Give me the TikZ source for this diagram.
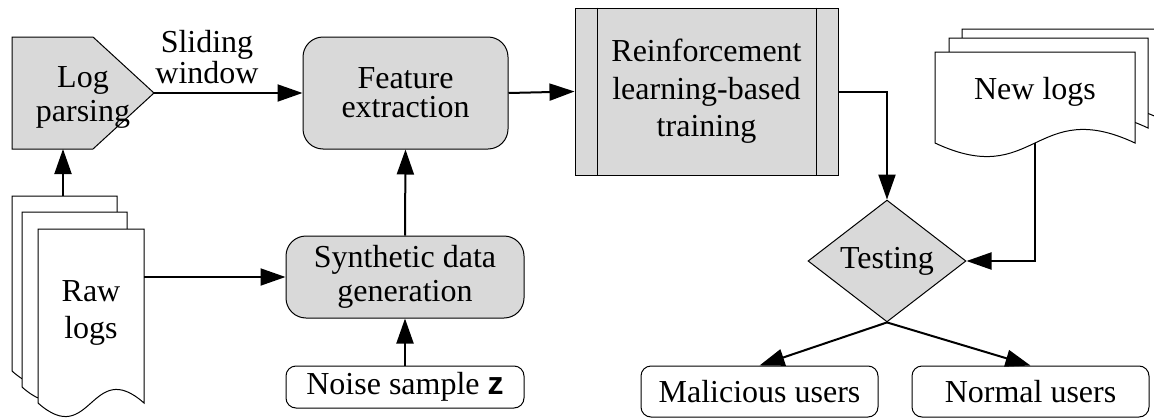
\documentclass[tikz,border=0pt]{standalone}
\usepackage{fontspec}
\setmainfont{LiberationSerif}[Extension=.ttf, UprightFont=*-Regular, BoldFont=*-Bold, ItalicFont=*-Italic]
\newfontfamily\zfont{Liberation Sans}
\usetikzlibrary{arrows.meta,shapes.geometric}

\definecolor{boxgray}{RGB}{217,217,217}

\tikzset{every picture/.style={line width=0.75pt}}
\tikzset{
  linegap/.style={font=\rmfamily\fontsize{24}{#1}\selectfont},
  flowtext/.style={linegap=28pt, align=center, inner sep=0pt},
  graybox/.style={flowtext, draw, fill=boxgray},
  roundbox/.style={flowtext, draw, fill=white, rounded corners=7.5pt},
  flowarrow/.style={line width=1.5pt, -{Triangle[length=18.75pt,width=12.75pt]}},
}

% one sheet of a document stack: left, top, right, bottom
\newcommand{\logsheet}[4]{%
  \draw[fill=white] (#1,#2) -- (#3,#2) -- (#3,#4)
    .. controls ({(#1+#3)/2},{#4-47}) and ({(#1+#3)/2},{#4+47}) .. (#1,#4) -- cycle;}

\begin{document}
\begin{tikzpicture}[x=0.75pt,y=0.75pt,yscale=-1,xscale=1]
\useasboundingbox (0,0) rectangle (1154,418);

%Shape: Pentagon (log parsing)
\draw[fill=boxgray] (12,37) -- (93,37) -- (154,93) -- (93,149) -- (12,149) -- cycle;
\coordinate (parse tip) at (154,93);
\coordinate (parse foot) at (63,149);
% Text Node
\node[flowtext, linegap=25.5pt] (parse) at (83,97) {Log\\parsing};

%Shape: Document stack (raw logs)
\logsheet{12}{196}{117}{371}
\logsheet{22}{212}{127}{387}
\logsheet{38}{229}{144}{403}
\coordinate (raw top) at (63,196);
\coordinate (raw side) at (144,277);
% Text Node
\node[flowtext, linegap=28pt] (raw) at (91,313) {Raw\\logs};

%Shape: Rounded Rect (feature extraction)
\node[graybox, rounded corners=15pt, linegap=22pt, minimum width=153.75pt, minimum height=84pt] (feat) at (405.5,93) {Feature\\extraction};

%Shape: Rounded Rect (synthetic data)
\node[graybox, rounded corners=15pt, linegap=25.5pt, minimum width=178.5pt, minimum height=61.5pt] (synth) at (405,277) {Synthetic data\\generation};

%Shape: Rounded Rect (noise)
\node[roundbox, minimum width=178.5pt, minimum height=31.5pt] (noise) at (405,387) {Noise sample {\zfont\bfseries z}};

%Shape: Rectangle (training)
\node[graybox, minimum width=197.25pt, minimum height=125.25pt] (rl) at (706.5,91.5) {Reinforcement\\learning-based\\training};
\draw ([xshift=17.25pt]rl.north west) -- ([xshift=17.25pt]rl.south west);
\draw ([xshift=-16.5pt]rl.north east) -- ([xshift=-16.5pt]rl.south east);

%Shape: Diamond (testing)
\node[graybox, diamond, minimum width=118.5pt, minimum height=84pt] (test) at (887,261) {Testing};

%Shape: Document stack (new logs)
\logsheet{962}{29}{1161}{119}
\logsheet{949}{38}{1148}{128}
\logsheet{935}{52}{1135}{143}
\coordinate (new foot) at (1035,143);
% Text Node
\node[flowtext] (new) at (1035,92) {New logs};

%Shape: Rounded Rect (results)
\node[roundbox, minimum width=177.75pt, minimum height=38.25pt] (mal) at (759.5,391.5) {Malicious users};
\node[roundbox, minimum width=177.75pt, minimum height=38.25pt] (norm) at (1030.5,391.5) {Normal users};

%Connectors
\draw[flowarrow] (raw top) -- (parse foot);
\draw[flowarrow] (parse tip) -- (feat.west);
\draw[flowarrow] (raw side) -- (synth.west);
\draw[flowarrow] (noise.north) -- (synth.south);
\draw[flowarrow] (synth.north) -- (feat.south);
\draw[flowarrow] (feat.east) -- (rl.west);
\draw[flowarrow] (rl.east) -| (test.north);
\draw[flowarrow] (new foot) |- (test.east);
\draw[flowarrow] (test.south) -- (mal.north);
\draw[flowarrow] (test.south) -- (norm.north);

% Text Node
\node[flowtext, linegap=19.5pt, anchor=south] (slide) at (207,84) {Sliding\\window};

\end{tikzpicture}
\end{document}
